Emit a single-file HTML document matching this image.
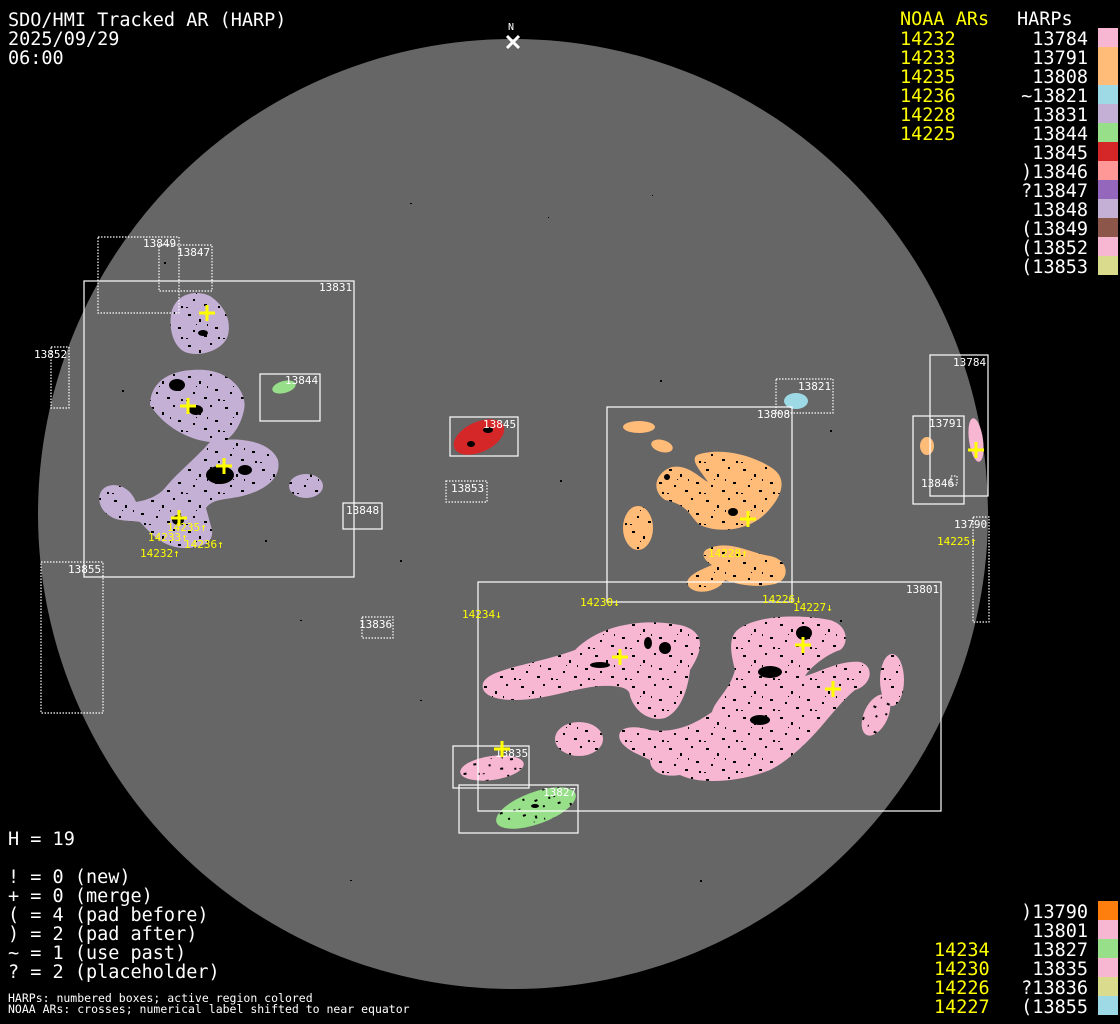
<!DOCTYPE html>
<html><head><meta charset="utf-8"><style>
html,body{margin:0;padding:0;background:#000;}
svg{display:block;}
text{font-family:"DejaVu Sans Mono","Liberation Mono",monospace;}
.t{fill:#fff;font-size:18.5px;}
.y{fill:#ffff00;font-size:18.5px;}
.bl{fill:#fff;font-size:11px;}
.yl{fill:#ffff00;font-size:11px;}
.f{fill:#fff;font-size:11.5px;}
.s{fill:none;stroke:#fff;stroke-width:1.2;}
.d{fill:none;stroke:#fff;stroke-width:1.2;stroke-dasharray:1.5 1.5;}
.c{stroke:#ffff00;stroke-width:3;}
.k{fill:#000;}
</style></head><body>
<svg width="1120" height="1024" viewBox="0 0 1120 1024" xmlns="http://www.w3.org/2000/svg">
<defs>
<pattern id="sp" width="37" height="31" patternUnits="userSpaceOnUse">
<rect x="3" y="4" width="3" height="2" fill="#000"/><rect x="14" y="9" width="2" height="3" fill="#000"/>
<rect x="25" y="2" width="2" height="2" fill="#000"/><rect x="30" y="17" width="3" height="2" fill="#000"/>
<rect x="8" y="20" width="2" height="2" fill="#000"/><rect x="19" y="25" width="3" height="2" fill="#000"/>
<rect x="22" y="14" width="1" height="2" fill="#000"/><rect x="1" y="28" width="2" height="1" fill="#000"/>
<rect x="33" y="27" width="2" height="2" fill="#000"/><rect x="11" y="14" width="1" height="1" fill="#000"/>
</pattern>
</defs>
<rect width="1120" height="1024" fill="#000"/>
<circle cx="513" cy="514" r="475" fill="#666666"/>
<g class="k">
<rect x="164" y="262" width="2" height="2"/><rect x="122" y="390" width="2" height="2"/><rect x="410" y="203" width="2" height="1"/>
<rect x="548" y="217" width="1" height="1"/><rect x="652" y="195" width="1" height="1"/><rect x="660" y="380" width="2" height="2"/>
<rect x="400" y="560" width="2" height="2"/><rect x="300" y="620" width="2" height="1"/><rect x="420" y="700" width="2" height="1"/>
<rect x="350" y="880" width="2" height="1"/><rect x="700" y="880" width="2" height="2"/><rect x="840" y="620" width="2" height="2"/>
<rect x="265" y="540" width="2" height="2"/><rect x="560" y="480" width="2" height="2"/><rect x="830" y="430" width="2" height="2"/>
</g>
<text x="508" y="30" fill="#fff" font-size="10">N</text>
<path d="M507 36 L519 48 M519 36 L507 48" stroke="#fff" stroke-width="3"/>

<g fill="#c5b0d5">
<path d="M172 310 C178 292 198 290 210 296 C222 304 232 318 228 335 C224 350 200 358 185 352 C172 346 168 325 172 310Z"/>
<path d="M150 405 C150 382 170 368 205 370 C230 372 248 392 244 410 C240 428 232 436 225 441 L210 442 C190 440 165 428 150 405Z"/>
<path d="M210 442 C235 436 270 440 278 460 C282 480 262 492 238 497 C220 500 212 500 206 508 L212 530 C214 545 198 548 182 548 C160 546 150 532 140 522 C130 520 118 522 110 516 C96 508 96 490 108 486 C122 482 132 492 136 502 C148 500 158 496 165 488 C178 472 192 462 210 442Z"/>
<ellipse cx="306" cy="486" rx="17" ry="12"/>
</g>
<ellipse cx="284" cy="387" rx="12" ry="6" fill="#98df8a" transform="rotate(-15 284 387)"/>
<ellipse cx="479" cy="437" rx="27" ry="15" fill="#d62728" transform="rotate(-25 479 437)"/>
<ellipse cx="796" cy="401" rx="12" ry="8" fill="#9edae5"/>
<g fill="#ffbb78">
<ellipse cx="639" cy="427" rx="16" ry="6"/>
<ellipse cx="662" cy="446" rx="11" ry="6" transform="rotate(15 662 446)"/>
<path d="M697 455 C715 448 748 452 772 468 C790 480 780 500 764 515 C748 530 720 534 700 525 C690 518 690 505 665 500 C650 490 656 472 672 467 C688 464 700 478 708 482 C700 470 690 460 697 455Z"/>
<ellipse cx="638" cy="528" rx="15" ry="22"/>
<path d="M710 548 C730 540 750 553 770 556 C790 560 790 580 775 584 C755 588 740 585 725 580 C720 590 700 596 690 588 C680 578 700 570 712 565 C700 558 702 550 710 548Z"/>
<ellipse cx="927" cy="446" rx="7" ry="9"/>
</g>
<ellipse cx="976" cy="440" rx="7" ry="22" fill="#f7b6d2" transform="rotate(-8 976 440)"/>
<g fill="#f7b6d2">
<path d="M483 683 C490 668 530 666 575 650 C600 625 640 618 680 625 C710 632 700 655 690 670 C688 690 680 712 665 718 C650 722 635 712 630 696 C630 688 620 685 600 686 C575 688 545 700 515 700 C495 700 480 695 483 683Z"/>
<path d="M740 628 C760 615 800 614 830 620 C850 626 848 645 840 650 C825 655 810 668 805 676 C820 672 840 660 860 662 C875 666 872 685 855 690 C845 698 835 710 825 722 C810 740 790 760 770 770 C740 782 700 785 680 775 C660 778 650 770 650 760 C640 755 625 750 620 740 C615 726 635 725 650 730 C680 734 700 720 712 712 C715 700 730 690 735 670 C730 650 728 636 740 628Z"/>
<ellipse cx="892" cy="680" rx="12" ry="26"/>
<ellipse cx="876" cy="715" rx="12" ry="22" transform="rotate(25 876 715)"/>
<ellipse cx="579" cy="739" rx="24" ry="17"/>
<ellipse cx="492" cy="768" rx="32" ry="12" transform="rotate(-8 492 768)"/>
</g>
<ellipse cx="536" cy="808" rx="42" ry="16" fill="#98df8a" transform="rotate(-20 536 808)"/>

<g fill="url(#sp)">
<path d="M172 310 C178 292 198 290 210 296 C222 304 232 318 228 335 C224 350 200 358 185 352 C172 346 168 325 172 310Z"/>
<path d="M150 405 C150 382 170 368 205 370 C230 372 248 392 244 410 C240 428 232 436 225 441 L210 442 C190 440 165 428 150 405Z"/>
<path d="M210 442 C235 436 270 440 278 460 C282 480 262 492 238 497 C220 500 212 500 206 508 L212 530 C214 545 198 548 182 548 C160 546 150 532 140 522 C130 520 118 522 110 516 C96 508 96 490 108 486 C122 482 132 492 136 502 C148 500 158 496 165 488 C178 472 192 462 210 442Z"/>
<ellipse cx="306" cy="486" rx="17" ry="12"/>
<path d="M697 455 C715 448 748 452 772 468 C790 480 780 500 764 515 C748 530 720 534 700 525 C690 518 690 505 665 500 C650 490 656 472 672 467 C688 464 700 478 708 482 C700 470 690 460 697 455Z"/>
<ellipse cx="638" cy="528" rx="15" ry="22"/>
<path d="M710 548 C730 540 750 553 770 556 C790 560 790 580 775 584 C755 588 740 585 725 580 C720 590 700 596 690 588 C680 578 700 570 712 565 C700 558 702 550 710 548Z"/>
<path d="M483 683 C490 668 530 666 575 650 C600 625 640 618 680 625 C710 632 700 655 690 670 C688 690 680 712 665 718 C650 722 635 712 630 696 C630 688 620 685 600 686 C575 688 545 700 515 700 C495 700 480 695 483 683Z"/>
<path d="M740 628 C760 615 800 614 830 620 C850 626 848 645 840 650 C825 655 810 668 805 676 C820 672 840 660 860 662 C875 666 872 685 855 690 C845 698 835 710 825 722 C810 740 790 760 770 770 C740 782 700 785 680 775 C660 778 650 770 650 760 C640 755 625 750 620 740 C615 726 635 725 650 730 C680 734 700 720 712 712 C715 700 730 690 735 670 C730 650 728 636 740 628Z"/>
<ellipse cx="892" cy="680" rx="12" ry="26"/>
<ellipse cx="876" cy="715" rx="12" ry="22" transform="rotate(25 876 715)"/>
<ellipse cx="579" cy="739" rx="24" ry="17"/>
<ellipse cx="492" cy="768" rx="32" ry="12" transform="rotate(-8 492 768)"/>
<ellipse cx="536" cy="808" rx="42" ry="16" transform="rotate(-20 536 808)"/>
</g>

<g class="k">
<ellipse cx="177" cy="385" rx="8" ry="6"/><ellipse cx="196" cy="410" rx="7" ry="5"/>
<ellipse cx="220" cy="475" rx="14" ry="9"/><ellipse cx="245" cy="470" rx="7" ry="5"/>
<ellipse cx="178" cy="520" rx="6" ry="5"/><ellipse cx="203" cy="333" rx="5" ry="3"/>
<ellipse cx="804" cy="633" rx="8" ry="7"/><ellipse cx="665" cy="648" rx="6" ry="6"/>
<ellipse cx="648" cy="643" rx="4" ry="6"/><ellipse cx="600" cy="665" rx="10" ry="3"/>
<ellipse cx="770" cy="672" rx="12" ry="6"/><ellipse cx="760" cy="720" rx="10" ry="5"/>
<ellipse cx="488" cy="430" rx="5" ry="3"/><ellipse cx="471" cy="444" rx="4" ry="3"/>
<ellipse cx="733" cy="512" rx="5" ry="4"/><ellipse cx="667" cy="477" rx="3" ry="3"/>
<ellipse cx="535" cy="806" rx="4" ry="2"/>
</g>

<rect class="s" x="84" y="281" width="270" height="296"/>
<rect class="d" x="98" y="237" width="81" height="76"/>
<rect class="d" x="159" y="245" width="53" height="46"/>
<rect class="d" x="51" y="347" width="18" height="61"/>
<rect class="s" x="260" y="374" width="60" height="47"/>
<rect class="s" x="343" y="503" width="39" height="26"/>
<rect class="d" x="41" y="562" width="62" height="151"/>
<rect class="s" x="450" y="417" width="68" height="39"/>
<rect class="d" x="446" y="481" width="41" height="21"/>
<rect class="d" x="362" y="617" width="31" height="21"/>
<rect class="d" x="776" y="379" width="57" height="34"/>
<rect class="s" x="607" y="407" width="185" height="195"/>
<rect class="s" x="930" y="355" width="58" height="141"/>
<rect class="s" x="913" y="416" width="51" height="88"/>
<rect class="d" x="951" y="476" width="6" height="9"/>
<rect class="d" x="973" y="517" width="16" height="105"/>
<rect class="s" x="478" y="582" width="463" height="229"/>
<rect class="s" x="453" y="746" width="76" height="42"/>
<rect class="s" x="459" y="785" width="119" height="48"/>

<text class="bl" x="319" y="291">13831</text>
<text class="bl" x="143" y="247">13849</text>
<text class="bl" x="177" y="256">13847</text>
<text class="bl" x="34" y="358">13852</text>
<text class="bl" x="285" y="384">13844</text>
<text class="bl" x="346" y="514">13848</text>
<text class="bl" x="68" y="573">13855</text>
<text class="bl" x="483" y="428">13845</text>
<text class="bl" x="451" y="492">13853</text>
<text class="bl" x="359" y="628">13836</text>
<text class="bl" x="798" y="390">13821</text>
<text class="bl" x="757" y="418">13808</text>
<text class="bl" x="953" y="366">13784</text>
<text class="bl" x="929" y="427">13791</text>
<text class="bl" x="921" y="487">13846</text>
<text class="bl" x="954" y="528">13790</text>
<text class="bl" x="906" y="593">13801</text>
<text class="bl" x="495" y="757">13835</text>
<text class="bl" x="543" y="796">13827</text>

<g class="c">
<path d="M199 313h16M207 305v16"/><path d="M180 406h16M188 398v16"/><path d="M216 466h16M224 458v16"/>
<path d="M171 518h16M179 510v16"/><path d="M740 519h16M748 511v16"/><path d="M968 450h16M976 442v16"/>
<path d="M612 657h16M620 649v16"/><path d="M795 645h16M803 637v16"/><path d="M825 689h16M833 681v16"/>
<path d="M494 749h16M502 741v16"/>
</g>
<text class="yl" x="167" y="531">14235↑</text>
<text class="yl" x="148" y="541">14233↑</text>
<text class="yl" x="184" y="548">14236↑</text>
<text class="yl" x="140" y="557">14232↑</text>
<text class="yl" x="462" y="618">14234↓</text>
<text class="yl" x="580" y="606">14230↓</text>
<text class="yl" x="762" y="603">14226↓</text>
<text class="yl" x="793" y="611">14227↓</text>
<text class="yl" x="708" y="557">14228↑</text>
<text class="yl" x="937" y="545">14225↑</text>

<text class="t" x="8" y="26">SDO/HMI Tracked AR (HARP)</text>
<text class="t" x="8" y="45">2025/09/29</text>
<text class="t" x="8" y="64">06:00</text>

<text class="t" x="8" y="845">H = 19</text>
<text class="t" x="8" y="883">! = 0 (new)</text>
<text class="t" x="8" y="902">+ = 0 (merge)</text>
<text class="t" x="8" y="921">( = 4 (pad before)</text>
<text class="t" x="8" y="940">) = 2 (pad after)</text>
<text class="t" x="8" y="959">~ = 1 (use past)</text>
<text class="t" x="8" y="978">? = 2 (placeholder)</text>
<text class="f" x="8" y="1002">HARPs: numbered boxes; active region colored</text>
<text class="f" x="8" y="1013">NOAA ARs: crosses; numerical label shifted to near equator</text>

<text class="y" x="900" y="25">NOAA ARs</text>
<text class="t" x="1017" y="25">HARPs</text>
<g text-anchor="end">
<text class="t" x="1088" y="45">13784</text>
<text class="t" x="1088" y="64">13791</text>
<text class="t" x="1088" y="83">13808</text>
<text class="t" x="1088" y="102">~13821</text>
<text class="t" x="1088" y="121">13831</text>
<text class="t" x="1088" y="140">13844</text>
<text class="t" x="1088" y="159">13845</text>
<text class="t" x="1088" y="178">)13846</text>
<text class="t" x="1088" y="197">?13847</text>
<text class="t" x="1088" y="216">13848</text>
<text class="t" x="1088" y="235">(13849</text>
<text class="t" x="1088" y="254">(13852</text>
<text class="t" x="1088" y="273">(13853</text>
</g>
<text class="y" x="900" y="45">14232</text>
<text class="y" x="900" y="64">14233</text>
<text class="y" x="900" y="83">14235</text>
<text class="y" x="900" y="102">14236</text>
<text class="y" x="900" y="121">14228</text>
<text class="y" x="900" y="140">14225</text>
<rect x="1098" y="28" width="20" height="19" fill="#f7b6d2"/>
<rect x="1098" y="47" width="20" height="19" fill="#ffbb78"/>
<rect x="1098" y="66" width="20" height="19" fill="#ffbb78"/>
<rect x="1098" y="85" width="20" height="19" fill="#9edae5"/>
<rect x="1098" y="104" width="20" height="19" fill="#c5b0d5"/>
<rect x="1098" y="123" width="20" height="19" fill="#98df8a"/>
<rect x="1098" y="142" width="20" height="19" fill="#d62728"/>
<rect x="1098" y="161" width="20" height="19" fill="#ff9896"/>
<rect x="1098" y="180" width="20" height="19" fill="#9467bd"/>
<rect x="1098" y="199" width="20" height="19" fill="#c5b0d5"/>
<rect x="1098" y="218" width="20" height="19" fill="#8c564b"/>
<rect x="1098" y="237" width="20" height="19" fill="#f7b6d2"/>
<rect x="1098" y="256" width="20" height="19" fill="#dbdb8d"/>

<g text-anchor="end">
<text class="t" x="1088" y="918">)13790</text>
<text class="t" x="1088" y="937">13801</text>
<text class="t" x="1088" y="956">13827</text>
<text class="t" x="1088" y="975">13835</text>
<text class="t" x="1088" y="994">?13836</text>
<text class="t" x="1088" y="1013">(13855</text>
</g>
<text class="y" x="934" y="956">14234</text>
<text class="y" x="934" y="975">14230</text>
<text class="y" x="934" y="994">14226</text>
<text class="y" x="934" y="1013">14227</text>
<rect x="1098" y="901" width="20" height="19" fill="#ff7f0e"/>
<rect x="1098" y="920" width="20" height="19" fill="#f7b6d2"/>
<rect x="1098" y="939" width="20" height="19" fill="#98df8a"/>
<rect x="1098" y="958" width="20" height="19" fill="#f7b6d2"/>
<rect x="1098" y="977" width="20" height="19" fill="#dbdb8d"/>
<rect x="1098" y="996" width="20" height="19" fill="#9edae5"/>
</svg>
</body></html>
